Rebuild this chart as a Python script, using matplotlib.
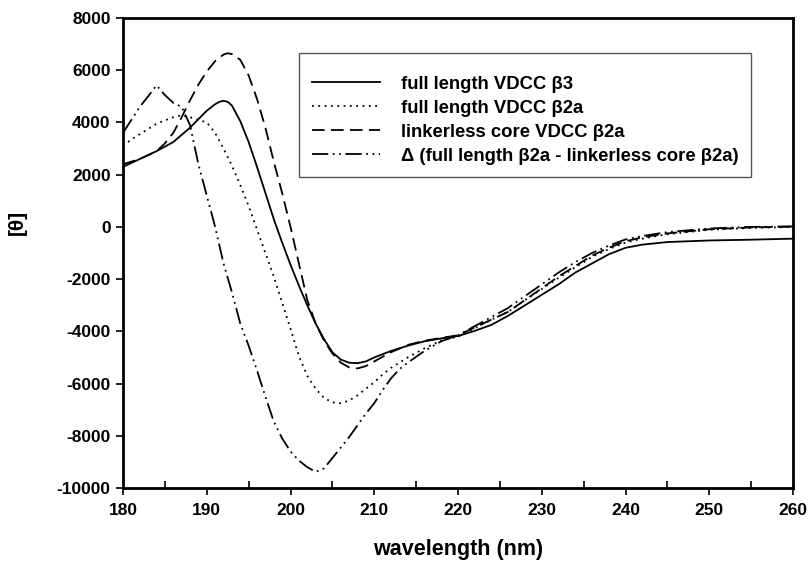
import numpy as np
import matplotlib
matplotlib.use("Agg")
from matplotlib import pyplot as plt
from matplotlib.patches import Rectangle
from matplotlib.ticker import MultipleLocator

##################################################
# Data (wavelength in nm, [theta])
wl_b3 = [180, 182, 184, 186, 188, 190, 191, 191.5, 192, 192.5, 193, 194,
         195, 196, 197, 198, 199, 200, 201, 202, 203, 204, 205, 206, 207,
         208, 209, 210, 212, 214, 216, 218, 220, 222, 224, 226, 228, 230,
         232, 234, 236, 238, 240, 242, 245, 250, 255, 260]
th_b3 = [2300, 2600, 2900, 3250, 3800, 4450, 4700, 4790, 4830, 4790, 4650,
         4050, 3250, 2300, 1300, 300, -600, -1450, -2250, -3000, -3700,
         -4300, -4800, -5080, -5200, -5220, -5150, -5000, -4750, -4550,
         -4380, -4270, -4180, -3980, -3750, -3400, -3000, -2600, -2200,
         -1750, -1400, -1050, -800, -680, -580, -520, -490, -450]

wl_core = [180, 182, 184, 185, 186, 187, 188, 189, 190, 191, 192, 192.5, 193,
           194, 195, 196, 197, 198, 199, 200, 201, 202, 203, 204, 205, 206,
           207, 208, 209, 210, 212, 214, 216, 218, 220, 222, 224, 226, 228,
           230, 232, 234, 236, 238, 240, 242, 245, 250, 255, 260]
th_core = [2400, 2600, 2900, 3200, 3600, 4200, 4850, 5450, 5950, 6350, 6600,
           6650, 6620, 6400, 5800, 4900, 3800, 2500, 1300, 0, -1400, -2800,
           -3700, -4350, -4850, -5200, -5380, -5420, -5330, -5150, -4800,
           -4520, -4360, -4250, -4150, -3850, -3550, -3250, -2800, -2350,
           -1900, -1500, -1100, -800, -550, -400, -250, -90, -20, 10]

wl_b2a = [180, 181, 182, 183, 184, 185, 186, 187, 188, 189, 190, 191, 192,
          193, 194, 195, 196, 197, 198, 199, 200, 201, 202, 203, 204, 205,
          206, 207, 208, 209, 210, 211, 212, 214, 216, 218, 220, 222, 224,
          226, 228, 230, 232, 234, 236, 238, 240, 242, 245, 250, 255, 260]
th_b2a = [3100, 3350, 3550, 3750, 3950, 4080, 4200, 4280, 4200, 4100, 4000,
          3600, 3000, 2350, 1600, 800, -100, -1000, -1900, -2900, -3900,
          -4950, -5700, -6200, -6550, -6720, -6750, -6650, -6450, -6200,
          -5950, -5650, -5400, -5000, -4650, -4350, -4200, -3880, -3550,
          -3250, -2800, -2380, -1950, -1550, -1150, -850, -600, -450, -280,
          -110, -40, 0]

wl_diff = [180, 181, 182, 183, 184, 185, 186, 187, 188, 189, 190, 191, 192,
           193, 194, 195, 196, 197, 198, 199, 200, 201, 202, 203, 204, 205,
           206, 207, 208, 209, 210, 211, 212, 213, 214, 216, 218, 220, 222,
           224, 226, 228, 230, 232, 234, 236, 238, 240, 242, 245, 250, 255,
           260]
th_diff = [3600, 4100, 4600, 5000, 5420, 5050, 4750, 4600, 3900, 2400, 1200,
           0, -1400, -2500, -3700, -4550, -5500, -6500, -7450, -8100, -8600,
           -8950, -9200, -9380, -9250, -8850, -8450, -8050, -7600, -7150,
           -6750, -6250, -5800, -5450, -5200, -4750, -4380, -4150, -3800,
           -3450, -3100, -2650, -2200, -1750, -1350, -1000, -720, -480, -350,
           -200, -60, 0, 20]

LABELS = ["full length VDCC \u03b23",
          "full length VDCC \u03b22a",
          "linkerless core VDCC \u03b22a",
          "\u0394 (full length \u03b22a - linkerless core \u03b22a)"]

##################################################
plt.rcParams['font.family'] = ['Liberation Sans', 'DejaVu Sans']
plt.rcParams['font.weight'] = 'bold'
plt.rcParams['axes.unicode_minus'] = False

fig = plt.figure(figsize=(8.11, 5.68), dpi=100)
ax = fig.add_axes([0.1517, 0.1408, 0.8261, 0.8275])

lw = 1.3
ax.plot(wl_b3, th_b3, color='black', lw=lw, linestyle='-', label=LABELS[0])
ax.plot(wl_b2a, th_b2a, color='black', lw=lw, linestyle=(0, (1, 2.5)),
        label=LABELS[1])
ax.plot(wl_core, th_core, color='black', lw=lw, linestyle=(0, (7, 3.5)),
        label=LABELS[2])
ax.plot(wl_diff, th_diff, color='black', lw=lw,
        linestyle=(0, (9, 2.5, 1, 2.5, 1, 2.5)), label=LABELS[3])

ax.set_xlim(180, 260)
ax.set_ylim(-10000, 8000)
ax.xaxis.set_major_locator(MultipleLocator(10))
ax.xaxis.set_minor_locator(MultipleLocator(5))
ax.yaxis.set_major_locator(MultipleLocator(2000))

for sp in ax.spines.values():
    sp.set_linewidth(2)

ax.tick_params(axis='x', which='major', direction='out', length=5, width=1.2,
               labelsize=12.5, pad=6)
ax.tick_params(axis='x', which='minor', direction='in', length=5, width=1.2)
ax.tick_params(axis='y', which='major', direction='out', length=5, width=1.2,
               labelsize=12.5, pad=4)
for lab in ax.get_xticklabels() + ax.get_yticklabels():
    lab.set_fontweight('bold')

ax.set_xlabel('wavelength (nm)', fontsize=15.5, fontweight='bold',
              labelpad=15)
ax.set_ylabel('[\u03b8]', fontsize=15, fontweight='bold')
ax.yaxis.set_label_coords(-0.143, 0.564)

# legend: frame drawn separately so the padding matches the original
ax.add_patch(Rectangle((0.2627, 0.6617), 0.6746, 0.2638,
                       transform=ax.transAxes, fill=True, facecolor='white',
                       edgecolor='#555555', linewidth=1.0, zorder=4))
leg = ax.legend(loc='upper left', bbox_to_anchor=(0.282, 0.877),
                borderaxespad=0, borderpad=0, frameon=False,
                prop={'family': 'Liberation Sans', 'weight': 'bold',
                      'size': 13.3},
                handlelength=3.7, handletextpad=1.1, labelspacing=0.38)
leg.set_zorder(5)

plt.savefig('out.png', dpi=100)
